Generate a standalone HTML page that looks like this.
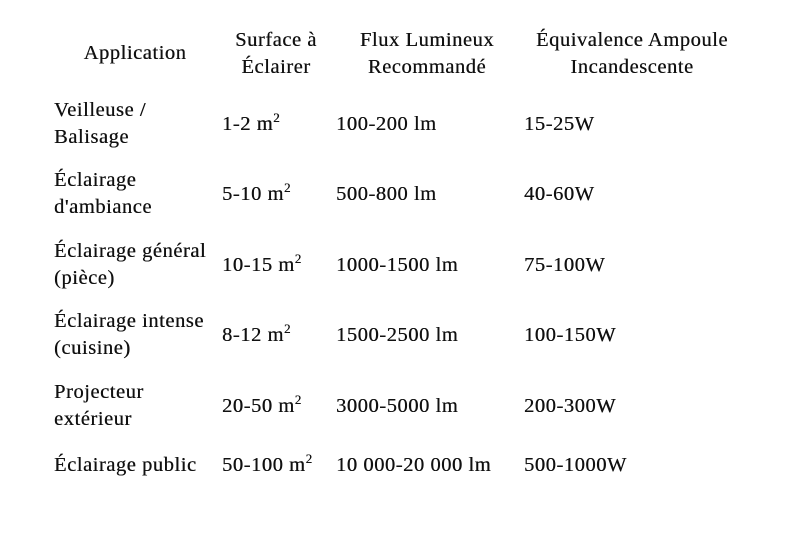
<!DOCTYPE html>
<html><head><meta charset="utf-8"><style>
body{margin:0;width:795px;height:533px;background:#fff;position:relative;overflow:hidden;font-family:"Liberation Serif","DejaVu Serif",serif;font-size:20.5px;letter-spacing:0.55px;color:#111;text-shadow:0.3px 0 0 #111}
.t{position:absolute;white-space:nowrap;line-height:27px}
.c{text-align:center;transform:translateX(-50%)}
sup{font-size:13px;vertical-align:0;position:relative;top:-8px}
</style></head><body>
<div class="t c" style="left:135px;top:40px">Application</div>
<div class="t c" style="left:276px;top:27px">Surface à<br>Éclairer</div>
<div class="t c" style="left:427px;top:27px">Flux Lumineux<br>Recommandé</div>
<div class="t c" style="left:632px;top:27px">Équivalence Ampoule<br>Incandescente</div>

<div class="t" style="left:54px;top:97px">Veilleuse /<br>Balisage</div>
<div class="t" style="left:222px;top:111px">1-2 m<sup>2</sup></div>
<div class="t" style="left:336px;top:111px">100-200 lm</div>
<div class="t" style="left:524px;top:111px">15-25W</div>

<div class="t" style="left:54px;top:167px">Éclairage<br>d'ambiance</div>
<div class="t" style="left:222px;top:181px">5-10 m<sup>2</sup></div>
<div class="t" style="left:336px;top:181px">500-800 lm</div>
<div class="t" style="left:524px;top:181px">40-60W</div>

<div class="t" style="left:54px;top:238px">Éclairage général<br>(pièce)</div>
<div class="t" style="left:222px;top:252px">10-15 m<sup>2</sup></div>
<div class="t" style="left:336px;top:252px">1000-1500 lm</div>
<div class="t" style="left:524px;top:252px">75-100W</div>

<div class="t" style="left:54px;top:308px">Éclairage intense<br>(cuisine)</div>
<div class="t" style="left:222px;top:322px">8-12 m<sup>2</sup></div>
<div class="t" style="left:336px;top:322px">1500-2500 lm</div>
<div class="t" style="left:524px;top:322px">100-150W</div>

<div class="t" style="left:54px;top:379px">Projecteur<br>extérieur</div>
<div class="t" style="left:222px;top:393px">20-50 m<sup>2</sup></div>
<div class="t" style="left:336px;top:393px">3000-5000 lm</div>
<div class="t" style="left:524px;top:393px">200-300W</div>

<div class="t" style="left:54px;top:452px">Éclairage public</div>
<div class="t" style="left:222px;top:452px">50-100 m<sup>2</sup></div>
<div class="t" style="left:336px;top:452px">10 000-20 000 lm</div>
<div class="t" style="left:524px;top:452px">500-1000W</div>
</body></html>
